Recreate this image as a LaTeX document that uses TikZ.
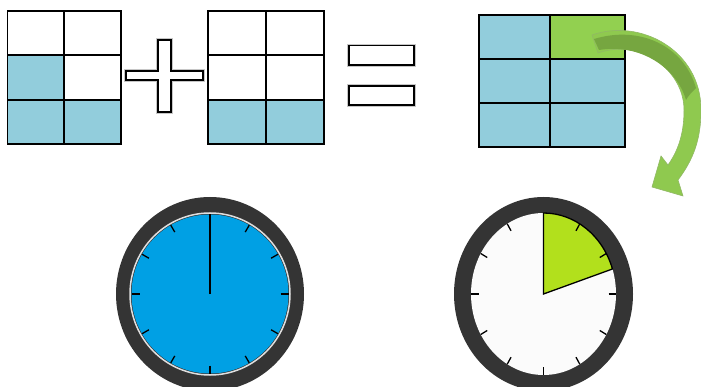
\documentclass[tikz,border=0pt]{standalone}
\usepackage{tikz}
\usetikzlibrary{calc}

\definecolor{cellblue}{RGB}{146,205,220}
\definecolor{cellgreen}{RGB}{146,208,80}
\definecolor{arrowlight}{RGB}{143,201,79}
\definecolor{arrowdark}{RGB}{118,166,64}
\definecolor{faceblue}{RGB}{0,160,228}
\definecolor{facelime}{RGB}{178,224,28}
\definecolor{rimgray}{RGB}{52,52,52}

\tikzset{
  gridline/.style={black, line width=1.7},
  signbox/.style={fill=white, draw=black, line width=1.4},
  signshadow/.style={draw=gray!45, line width=3.2},
  tickline/.style={black, line width=1.3},
}

\begin{document}
\begin{tikzpicture}[x=1pt, y=-1pt]
                \useasboundingbox (0,0) rectangle (701,387);
                \clip (0,0) rectangle (701,387);

                % First fraction
                \fill[cellblue] (7.5,55) rectangle (64,100);
                \fill[cellblue] (7.5,100) rectangle (121,144);
                \draw[gridline] (7.5,10.7) rectangle (121,144);
                \draw[gridline] (64,10.7) -- (64,144);
                \foreach \y in {55,100}
                    \draw[gridline] (7.5,\y) -- (121,\y);

                % Plus sign
                \draw[signshadow] (158,40) -- (171,40) -- (171,71) -- (203,71) -- (203,80) -- (171,80) -- (171,112) -- (158,112) -- (158,80) -- (126,80) -- (126,71) -- (158,71) -- cycle;
                \draw[signbox] (158,40) -- (171,40) -- (171,71) -- (203,71) -- (203,80) -- (171,80) -- (171,112) -- (158,112) -- (158,80) -- (126,80) -- (126,71) -- (158,71) -- cycle;

                % Second fraction
                \fill[cellblue] (208,100) rectangle (324,144);
                \draw[gridline] (208,10.7) rectangle (324,144);
                \draw[gridline] (266,10.7) -- (266,144);
                \foreach \y in {55,100}
                    \draw[gridline] (208,\y) -- (324,\y);

                % Equals sign
                \foreach \t/\b in {45.7/65, 86/105} {
                    \draw[signshadow] (349,\t) rectangle (414,\b);
                    \draw[signbox] (349,\t) rectangle (414,\b);
                }

                % Result
                \fill[cellblue] (479,15) rectangle (625,147);
                \fill[cellgreen] (550,15) rectangle (625,59);
                \draw[gridline] (479,15) rectangle (625,147);
                \draw[gridline] (550,15) -- (550,147);
                \foreach \y in {59,103}
                    \draw[gridline] (479,\y) -- (625,\y);

                % Curved arrow
                \fill[arrowlight, draw=arrowdark!80, line width=0.6]
                    (592,35) .. controls (640,18) and (701,50) .. (701,110)
                    .. controls (701,140) and (693,160) .. (678,180)
                    -- (683,196) -- (652,187) -- (661,156) -- (668,165)
                    .. controls (680,148) and (684,130) .. (684,110)
                    .. controls (684,70) and (640,38) .. (598,53) -- cycle;
                \fill[arrowdark]
                    (594,39) .. controls (640,25) and (684,46) .. (696,88)
                    .. controls (692,92) and (688,96) .. (686,100)
                    .. controls (677,68) and (640,43) .. (599,50) -- cycle;

                % Full clock
                \coordinate (c1) at (210,294);
                \fill[rimgray] (c1) ellipse [x radius=94, y radius=97];
                \draw[gray!25, line width=1.5] (c1) ellipse [x radius=80, y radius=81];
                \fill[faceblue] (c1) ellipse [x radius=78.5, y radius=79.5];
                \foreach \a in {0,30,...,330}
                    \draw[tickline] ($(c1)+(\a:70.5 and 71.5)$) -- ($(c1)+(\a:78.5 and 79.5)$);
                \draw[black, line width=1.8] (c1) -- ++(0,-79.5);

                % Clock with one sixth
                \coordinate (c2) at (543.5,294);
                \fill[rimgray] (c2) ellipse [x radius=89.5, y radius=97];
                \fill[white!97!gray] (c2) ellipse [x radius=72.5, y radius=81];
                \filldraw[fill=facelime, draw=black, line width=1.3]
                    (c2) -- ++(-90:72.5 and 81) arc [start angle=-90, end angle=-18, x radius=72.5, y radius=81] -- cycle;
                \foreach \a in {0,30,...,330}
                    \draw[tickline] ($(c2)+(\a:65 and 73)$) -- ($(c2)+(\a:72.5 and 81)$);
\end{tikzpicture}
\end{document}
